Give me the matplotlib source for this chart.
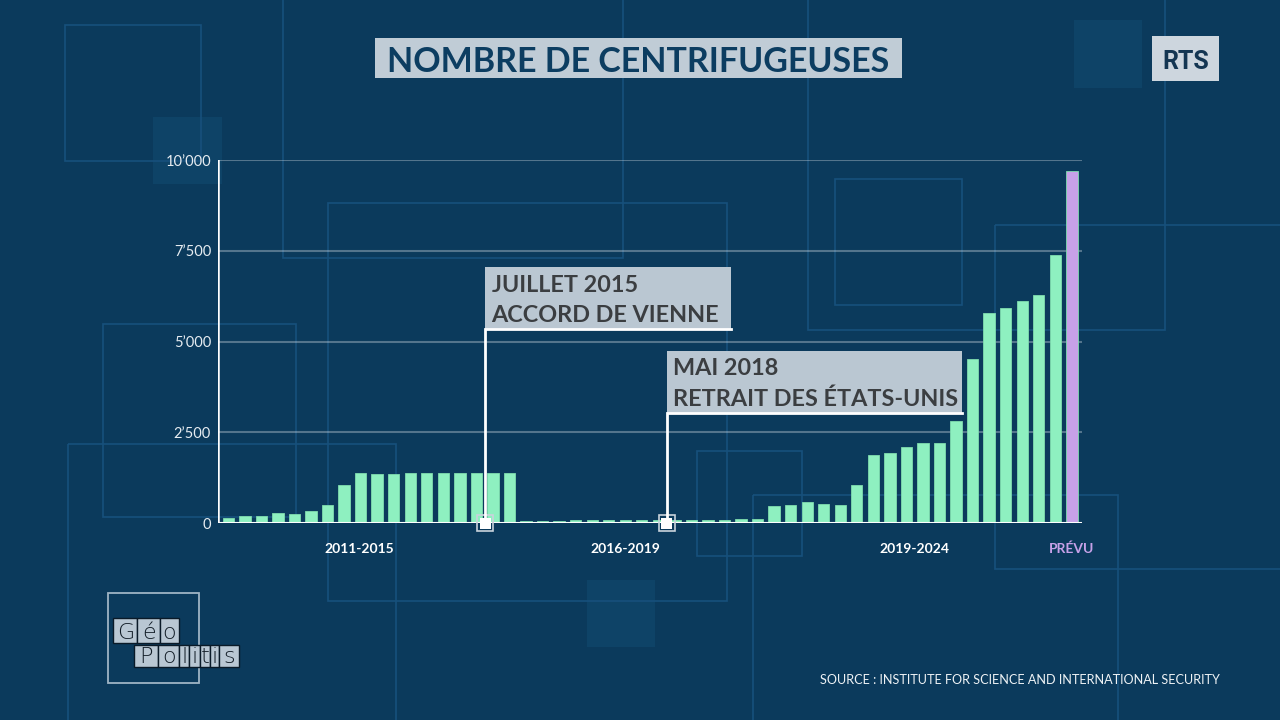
import matplotlib
matplotlib.use("Agg")
import matplotlib.pyplot as plt
from matplotlib.patches import Rectangle

# ---------------- data ----------------
values = [147, 212, 193, 276, 267, 340, 497, 1058, 1381, 1363, 1354, 1381, 1372, 1390,
          1372, 1390, 1390, 1372,
          60, 60, 60, 85, 85, 85, 85, 85, 85, 85, 85, 85, 85, 110, 130,
          477, 500, 578, 523, 495, 1046, 1881, 1927, 2092, 2220, 2220, 2808, 4523,
          5780, 5920, 6110, 6292, 7377,
          9705]
forecast_flags = [False] * 51 + [True]
period_labels = ["2011-2015", "2016-2019", "2019-2024", "PRÉVU"]
period_pos = [7.9, 24.0, 41.5, 51.0]
y_ticks = [0, 2500, 5000, 7500, 10000]
y_tick_labels = ["0", "2’500", "5’000", "7’500", "10’000"]
event_pos = [15.52, 26.52]
event_lines = [["JUILLET 2015", "ACCORD DE VIENNE"], ["MAI 2018", "RETRAIT DES ÉTATS-UNIS"]]
title = "NOMBRE DE CENTRIFUGEUSES"
source = "SOURCE : INSTITUTE FOR SCIENCE AND INTERNATIONAL SECURITY"

# ---------------- style ----------------
BG = "#0b3a5c"
DECO = "#17507c"
FILL = "#0e4367"
GREEN = "#8ef0c0"
PURPLE = "#c7a1e8"
BOX = "#bac7d2"
DARK = "#3b3e41"
W, H = 1280, 720

fig = plt.figure(figsize=(12.8, 7.2), dpi=100)
fig.patch.set_facecolor(BG)

# background decoration axes, pixel coords
bg = fig.add_axes([0, 0, 1, 1], zorder=0)
bg.set_xlim(0, W); bg.set_ylim(H, 0); bg.axis("off")
bg.set_facecolor(BG)
outlines = [(65, 25, 201, 161), (283, -5, 623, 258), (328, 203, 727, 601), (103, 324, 296, 517),
            (68, 444, 396, 730), (808, -5, 1165, 330), (835, 179, 962, 305), (995, 225, 1290, 569),
            (697, 451, 802, 556), (753, 495, 1118, 730)]
fills = [(153, 117, 222, 184), (1074, 20, 1142, 88), (587, 580, 655, 647)]
for x0, y0, x1, y1 in fills:
    bg.add_patch(Rectangle((x0, y0), x1 - x0, y1 - y0, facecolor=FILL, edgecolor="none"))
for x0, y0, x1, y1 in outlines:
    bg.add_patch(Rectangle((x0, y0), x1 - x0, y1 - y0, facecolor="none", edgecolor=DECO, lw=1.2))

# chart axes
x_left, x_right = 218, 1082
y_top, y_bot = 160, 523.3
ax = fig.add_axes([x_left / W, (H - y_bot) / H, (x_right - x_left) / W, (y_bot - y_top) / H], zorder=2)
ax.set_facecolor("none")
step = 16.54
ax.set_xlim((x_left - 228.3) / step, (x_right - 228.3) / step)
ax.set_ylim(0, 10000)
for s in ax.spines.values():
    s.set_visible(False)
xs = list(range(len(values)))
colors = [PURPLE if f else GREEN for f in forecast_flags]
ax.bar(xs, values, width=0.685, color=colors, edgecolor="#7fdcae", linewidth=0.6, zorder=3)
for t in y_ticks[1:]:
    ax.axhline(t, color="white", alpha=0.3, lw=1.5, zorder=1)
ax.axhline(0, color="white", lw=1.5, zorder=4)
ax.axvline(ax.get_xlim()[0], color="white", lw=1.8, zorder=4)
ax.set_yticks(y_ticks)
ax.set_yticklabels(y_tick_labels, fontsize=10.5, color="#e6ecf1", family="Lato")
ax.tick_params(axis="y", length=0, pad=5)
ax.set_xticks(period_pos)
ax.set_xticklabels(period_labels, fontsize=10, fontweight="bold", family="Lato")
ax.tick_params(axis="x", length=0, pad=14)
for lab, p in zip(ax.get_xticklabels(), period_labels):
    lab.set_color(PURPLE if p == "PRÉVU" else "white")

# overlay axes (pixel coords)
ov = fig.add_axes([0, 0, 1, 1], zorder=5)
ov.set_xlim(0, W); ov.set_ylim(H, 0); ov.axis("off"); ov.set_facecolor("none")

def px_x(xd):
    return ax.transData.transform((xd, 0))[0]

# title
ov.add_patch(Rectangle((375, 38), 527, 40, facecolor="#c0ccd6", edgecolor="none"))
ov.text(638.5, 72, title, ha="center", va="baseline", fontsize=24.5, fontweight="bold",
        family="Lato", color="#0c3d61")

# RTS logo
ov.add_patch(Rectangle((1152, 36), 67, 45, facecolor="#cdd6de", edgecolor="none"))
ov.text(1185.5, 69, "RTS", ha="center", va="baseline", fontsize=18, fontweight="bold",
        family="Roboto", color="#143652")

# annotations
boxes = [(267, 329, 731, [292.3, 322.3]), (351, 413, 962, [375, 405.7])]
for ep, lines, (by0, by1, bx1, bases) in zip(event_pos, event_lines, boxes):
    xp = px_x(ep)
    ov.add_patch(Rectangle((xp, by0), bx1 - xp, by1 - by0, facecolor=BOX, edgecolor="none"))
    ov.plot([xp, xp, bx1], [523, by1, by1], color="white", lw=2, solid_joinstyle="miter")
    for ln, b in zip(lines, bases):
        ov.text(xp + 6.5, b, ln, ha="left", va="baseline", fontsize=16.8, fontweight="bold",
                family="Lato", color=DARK)
    ov.add_patch(Rectangle((xp - 8, 515), 16, 16, facecolor="none", edgecolor="#c9d3dc", lw=1.2))
    ov.add_patch(Rectangle((xp - 5.5, 517.5), 11, 11, facecolor="white", edgecolor="none"))

# source
ov.text(1220, 684, source, ha="right", va="baseline", fontsize=9.1, family="Lato", color="#eef2f5")

# Geopolitis logo
ov.add_patch(Rectangle((108, 593), 91, 90, facecolor="none", edgecolor="#9fb4c5", lw=1.3))
geo = [("G", 113.3, 137.3), ("é", 137.3, 160), ("o", 160, 179)]
pol = [("P", 134.3, 158.3), ("o", 158.3, 179), ("l", 179, 189.3), ("i", 189.3, 200),
       ("t", 200, 210), ("i", 210, 219.3), ("s", 219.3, 238.7)]
for row, (y0, y1) in ((geo, (618.3, 642.7)), (pol, (645, 666.7))):
    for ch, x0, x1 in row:
        ov.add_patch(Rectangle((x0, y0), x1 - x0, y1 - y0, facecolor="#b9c7d3", edgecolor="#0a1a28", lw=1.0))
        ov.text((x0 + x1) / 2, y1 - 3.5, ch, ha="center", va="baseline", fontsize=16,
                fontweight="light", family="DejaVu Sans", color="#111c26")

fig.savefig("out.png", dpi=100, facecolor=BG)
